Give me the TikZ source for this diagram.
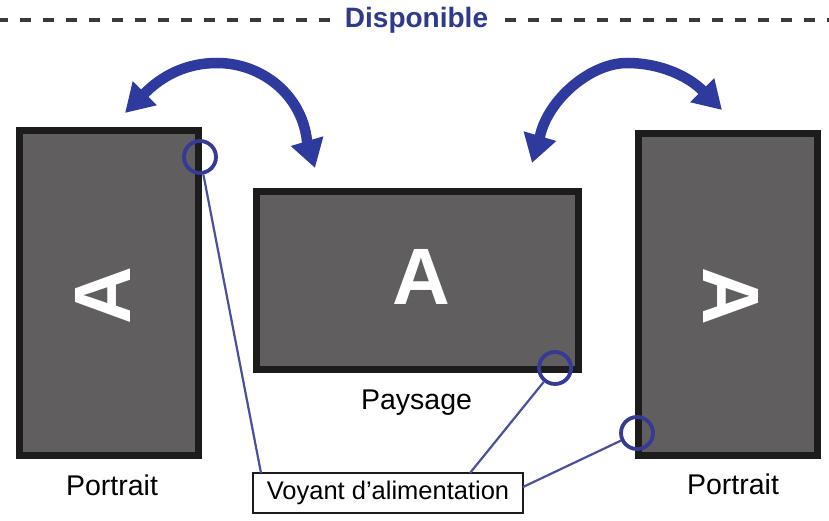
\documentclass[tikz,border=0pt]{standalone}
\usepackage{fontspec}
\setmainfont{Liberation Sans}
\usetikzlibrary{arrows.meta}
\definecolor{scrgrey}{HTML}{605E5F}
\definecolor{frame}{HTML}{1C1C1C}
\definecolor{arrblue}{HTML}{2F3A9F}
\definecolor{txtblue}{HTML}{2E3A8A}
\definecolor{ringblue}{HTML}{343A96}
\definecolor{lineblue}{HTML}{4B509C}
\definecolor{dashgrey}{HTML}{3A3A3A}
\tikzset{
  screen/.style={draw=frame, fill=scrgrey, line width=7pt, inner sep=0pt},
  bigA/.style={text=white, font=\fontsize{80}{80}\selectfont\bfseries, inner sep=0pt},
  ring/.style={circle, draw=ringblue, line width=3.8pt, minimum size=32pt, inner sep=0pt},
  lead/.style={draw=lineblue, line width=2.2pt},
  caption/.style={font=\fontsize{28.5}{30}\selectfont, text=black, inner sep=0pt, anchor=base},
  rot/.style={draw=arrblue, line width=10.5pt, {Triangle[length=28pt,width=32pt]}-{Triangle[length=28pt,width=32pt]}},
}
\begin{document}
\begin{tikzpicture}[x=1pt,y=-1pt]
\useasboundingbox (0,0) rectangle (829,521);
\fill[white] (0,0) rectangle (829,521);

% header
\node[font=\fontsize{28}{30}\selectfont\bfseries, text=txtblue, inner sep=0pt, anchor=base] (disp) at (416.5,28) {Disponible};
\coordinate (dl0) at (0,20);
\coordinate (dl1) at (330,20);
\coordinate (dr0) at (505,20);
\coordinate (dr1) at (829,20);
\draw[dashgrey, line width=3.5pt, dash pattern=on 11pt off 12pt] (dl1) -- (dl0);
\draw[dashgrey, line width=3.5pt, dash pattern=on 11pt off 12pt] (dr0) -- (dr1);

% screens
\node[screen, minimum width=179pt, minimum height=325pt] (left) at (109,293) {};
\node[screen, minimum width=322pt, minimum height=178pt] (mid) at (417.5,280.5) {};
\node[screen, minimum width=179pt, minimum height=322pt] (right) at (728,294.5) {};

\node[bigA, rotate=90] (aL) at (103,296) {A};
\node[bigA] (aM) at (421,277) {A};
\node[bigA, rotate=-90] (aR) at (731,296) {A};

% captions
\node[caption] (capL) at (112,495) {Portrait};
\node[caption] (capM) at (416.5,409) {Paysage};
\node[caption] (capR) at (733,494) {Portrait};

% rotation arrows
\draw[rot] (125,113) -- (145,93) .. controls (162,76) and (186,63) .. (217,63)
  .. controls (262,63) and (302,95) .. (307,141) -- (315,168);
\draw[rot] (532,163) -- (540,136) .. controls (548,100) and (590,63) .. (627,63)
  .. controls (660,63) and (688,76) .. (703,91) -- (722,110);

% power indicator
\node[draw=frame, line width=2.4pt, fill=white, minimum width=270pt, minimum height=40pt, inner sep=0pt,
      font=\fontsize{25.5}{27}\selectfont] (box) at (388,493) {Voyant d’alimentation};
\node[ring] (rL) at (200,157) {};
\node[ring] (rM) at (555,368) {};
\node[ring] (rR) at (637,433) {};
\coordinate (bL) at (261,473);
\coordinate (bM) at (470,473);
\coordinate (bR) at (523,487);
\draw[lead] (rL) -- (bL);
\draw[lead] (rM) -- (bM);
\draw[lead] (rR) -- (bR);
\end{tikzpicture}
\end{document}
